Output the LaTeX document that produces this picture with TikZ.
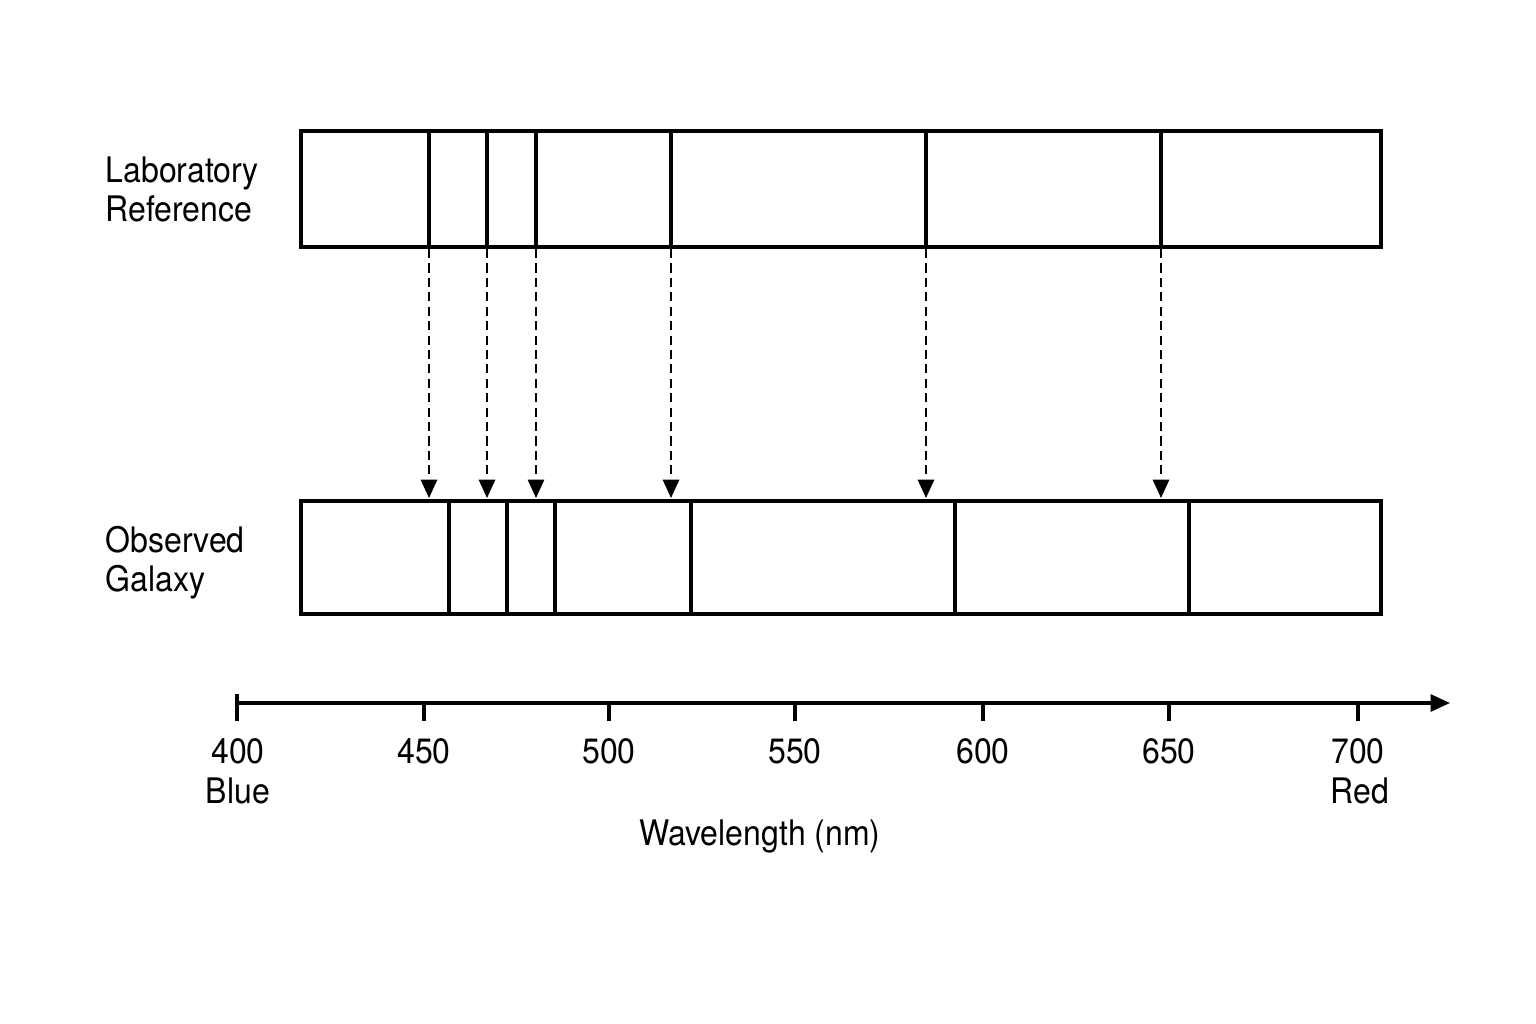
\documentclass[tikz,border=0pt]{standalone}
\usepackage{fontspec}
\setmainfont{TeX Gyre Heros}[FakeStretch=0.91]
\usetikzlibrary{arrows.meta}
\tikzset{
  specbox/.style={line width=0.9pt},
  specline/.style={line width=1.25pt},
  shiftarrow/.style={line width=0.65pt,dash pattern=on 2.6pt off 1.5pt,-{Triangle[length=5.2pt,width=4.6pt]}},
  sidelabel/.style={anchor=base west,inner sep=0pt,font=\fontsize{10}{11}\selectfont},
  ticklabel/.style={anchor=base,inner sep=0pt,font=\fontsize{10}{11}\selectfont}
}
\begin{document}
\begin{tikzpicture}[x=0.01cm,y=-0.01cm]
		\useasboundingbox (0,0) rectangle (1536,1024);
		% laboratory spectrum
		\node[sidelabel] (labtop) at (105,182) {Laboratory};
		\node[sidelabel] (labbot) at (105,221) {Reference};
		\draw[specbox] (301,131) rectangle (1381,247);
		\foreach \x [count=\i] in {429,487,536,671,926,1161} {
			\draw[specline] (\x,131) -- (\x,247);
			\coordinate (lab\i) at (\x,249);
			\coordinate (hit\i) at (\x,498);
		}
		% observed spectrum
		\node[sidelabel] (obstop) at (105,552) {Observed};
		\node[sidelabel] (obsbot) at (105,591) {Galaxy};
		\draw[specbox] (301,501) rectangle (1381,614);
		\foreach \x in {449,507,555,691,955,1189}
			\draw[specline] (\x,501) -- (\x,614);
		% shift arrows
		\foreach \i in {1,...,6}
			\draw[shiftarrow] (lab\i) -- (hit\i);
		% wavelength axis
		\coordinate (axstart) at (237,703);
		\coordinate (axend) at (1450,703);
		\draw[line width=0.9pt,-{Triangle[length=5.5pt,width=4.8pt]}] (axstart) -- (axend);
		\draw[line width=0.9pt] (237,694) -- (237,721);
		\foreach \x/\w in {424/450,609/500,795/550,983/600,1169/650,1358/700} {
			\draw[line width=0.9pt] (\x,703) -- (\x,721);
			\node[ticklabel] (tick\w) at (\x,763) {\w};
		}
		\node[ticklabel] (tick400) at (238,763) {400};
		\node[ticklabel] (blue) at (238,803) {Blue};
		\node[ticklabel] (red) at (1360,803) {Red};
		\node[ticklabel] (axtitle) at (760,845) {Wavelength (nm)};
	\end{tikzpicture}
\end{document}
